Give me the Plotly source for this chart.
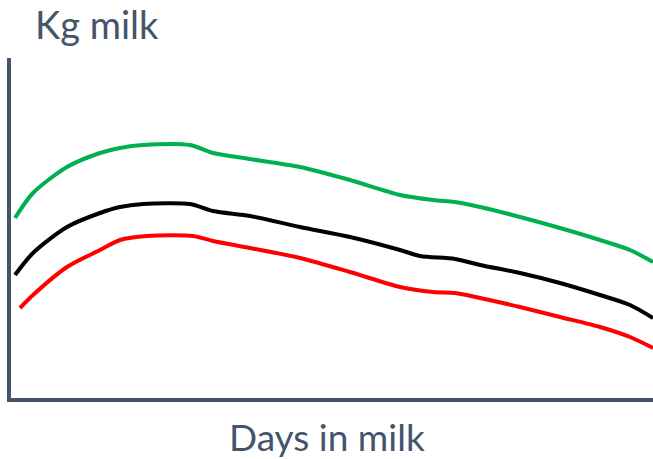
import plotly.graph_objects as go

# Days in milk (x) and kg milk (y)
days_green = [2, 11, 28, 44.5, 54.5, 66, 89.5, 101, 119.5, 144.5, 169.5, 194.5, 211, 222, 234.5, 254.5, 274.5, 294.5, 309.5, 321]
kg_green = [18.0, 20.5, 23.1, 24.5, 25.0, 25.3, 25.3, 24.5, 23.9, 23.1, 21.8, 20.3, 19.8, 19.6, 19.1, 18.1, 17.0, 15.8, 14.8, 13.6]

days_black = [2, 11, 28, 44.5, 54.5, 66, 89.5, 101, 119.5, 144.5, 169.5, 194.5, 204.5, 222, 234.5, 254.5, 274.5, 294.5, 309.5, 321]
kg_black = [12.3, 14.5, 17.1, 18.5, 19.1, 19.4, 19.4, 18.7, 18.2, 17.1, 16.1, 14.8, 14.2, 13.9, 13.3, 12.5, 11.5, 10.3, 9.3, 8.0]

days_red = [4.5, 11, 28, 44.5, 54.5, 68, 91, 101, 119.5, 144.5, 169.5, 194.5, 211, 222, 234.5, 254.5, 274.5, 294.5, 309.5, 321]
kg_red = [9.0, 10.3, 13.1, 14.8, 15.8, 16.2, 16.2, 15.7, 15.0, 14.0, 12.6, 11.1, 10.6, 10.5, 10.0, 9.1, 8.1, 7.1, 6.1, 5.0]

y_title = "Kg milk"
x_title = "Days in milk"

axis_color = "#44546A"
font_family = "Lato, Open Sans, sans-serif"

fig = go.Figure()
for xs, ys, col in [(days_green, kg_green, "#00B050"),
                    (days_black, kg_black, "#000000"),
                    (days_red, kg_red, "#FF0000")]:
    fig.add_trace(go.Scatter(x=xs, y=ys, mode="lines",
                             line=dict(color=col, width=4, shape="spline", smoothing=0.8),
                             showlegend=False, hoverinfo="skip"))

fig.update_layout(
    width=653, height=459,
    margin=dict(l=11, r=0, t=58, b=61),
    paper_bgcolor="white", plot_bgcolor="white",
    xaxis=dict(range=[0, 321], showgrid=False, zeroline=False, showticklabels=False,
               ticks="", showline=True, linecolor=axis_color, linewidth=4),
    yaxis=dict(range=[0, 34], showgrid=False, zeroline=False, showticklabels=False,
               ticks="", showline=True, linecolor=axis_color, linewidth=4),
    annotations=[
        dict(text=y_title, xref="paper", yref="paper", x=0.034, y=1.1,
             xanchor="left", yanchor="middle", showarrow=False,
             font=dict(family=font_family, size=38, color=axis_color)),
        dict(text=x_title, xref="paper", yref="paper", x=0.492, y=-0.112,
             xanchor="center", yanchor="middle", showarrow=False,
             font=dict(family=font_family, size=37, color=axis_color)),
    ],
)

fig.write_html("out.html", config={"displayModeBar": False},
               post_script="document.body.style.margin='0';")
